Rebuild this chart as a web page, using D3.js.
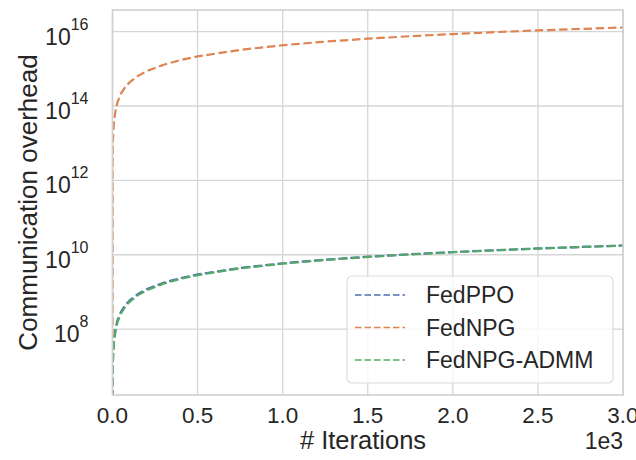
<!DOCTYPE html>
<html><head><meta charset="utf-8">
<script src="https://cdn.jsdelivr.net/npm/d3@7"></script>
<style>body{margin:0;background:#fff;} text{font-family:"Liberation Sans",Arial,sans-serif;fill:#262626;}</style>
</head><body>
<svg id="chart" width="636" height="460"></svg>
<script>
const iterations = [0,1,2,3,5,10,20,30,50,75,100,150,200,300,400,500,750,1000,1250,1500,1750,2000,2250,2500,2750,3000];
const fedPPO = [0,5.9e6,1.18e7,1.77e7,2.95e7,5.9e7,1.18e8,1.77e8,2.95e8,4.43e8,5.9e8,8.85e8,1.18e9,1.77e9,2.36e9,2.95e9,4.43e9,5.9e9,7.38e9,8.85e9,1.03e10,1.18e10,1.33e10,1.48e10,1.62e10,1.77e10];
const fedNPG = [0,4.3e12,8.6e12,1.29e13,2.15e13,4.3e13,8.6e13,1.29e14,2.15e14,3.23e14,4.3e14,6.45e14,8.6e14,1.29e15,1.72e15,2.15e15,3.23e15,4.3e15,5.38e15,6.45e15,7.53e15,8.6e15,9.68e15,1.08e16,1.18e16,1.29e16];
const fedNPGADMM = [0,5.0e6,1.0e7,1.5e7,2.5e7,5.1e7,1.03e8,1.56e8,2.65e8,4.0e8,5.4e8,8.2e8,1.1e9,1.67e9,2.25e9,2.83e9,4.3e9,5.75e9,7.2e9,8.7e9,1.02e10,1.17e10,1.31e10,1.46e10,1.61e10,1.76e10];
const seriesNames = ["FedPPO","FedNPG","FedNPG-ADMM"];
const seriesColors = ["#4C72B0","#DD8452","#55A868"];
const xTicks = [0,500,1000,1500,2000,2500,3000];
const yTickExps = [8,10,12,14,16];
const xLabel = "# Iterations";
const yLabel = "Communication overhead";
const xOffsetLabel = "1e3";

const svg = d3.select("#chart");
const L = 112.5, R = 623, T = 10, B = 395;
const W = R - L, H = B - T;

const allSeries = [fedPPO, fedNPG, fedNPGADMM];
const pos = allSeries.flat().filter(v => v > 0);
const lmin = Math.log10(d3.min(pos)), lmax = Math.log10(d3.max(pos));
const pad = (lmax - lmin) * 0.05;

const x = d3.scaleLinear().domain([0, 3000]).range([0, W]);
const y = d3.scaleLog().domain([Math.pow(10, lmin - pad), Math.pow(10, lmax + pad)]).range([H, 0]);

const g = svg.append("g").attr("transform", `translate(${L},${T})`);

svg.append("defs").append("clipPath").attr("id","clip")
  .append("rect").attr("x",0).attr("y",0).attr("width",W).attr("height",H);

// grid
g.append("g").selectAll("line").data(xTicks).join("line")
  .attr("x1", d => x(d)).attr("x2", d => x(d)).attr("y1", 0).attr("y2", H)
  .attr("stroke", "#d6d6d6").attr("stroke-width", 1.3);
g.append("g").selectAll("line").data(yTickExps).join("line")
  .attr("x1", 0).attr("x2", W).attr("y1", d => y(Math.pow(10, d))).attr("y2", d => y(Math.pow(10, d)))
  .attr("stroke", "#d6d6d6").attr("stroke-width", 1.3);

// lines
const line = d3.line()
  .x((d, i) => x(iterations[i]))
  .y(d => d > 0 ? y(d) : H + 40);
const lg = g.append("g").attr("clip-path", "url(#clip)");
allSeries.forEach((s, k) => {
  lg.append("path").datum(s).attr("d", line)
    .attr("fill", "none").attr("stroke", seriesColors[k])
    .attr("stroke-width", 2.2).attr("stroke-dasharray", "8.5,3.7");
});

// spines
g.append("rect").attr("x", 0).attr("y", 0).attr("width", W).attr("height", H)
  .attr("fill", "none").attr("stroke", "#d0d0d0").attr("stroke-width", 1.6);

// x tick labels
g.append("g").selectAll("text").data(xTicks).join("text")
  .attr("x", d => x(d)).attr("y", H + 28).attr("text-anchor", "middle")
  .attr("font-size", 22.5).text(d => (d / 1000).toFixed(1));

// y tick labels
const yl = g.append("g").selectAll("text").data(yTickExps).join("text")
  .attr("x", -24).attr("y", d => y(Math.pow(10, d)) + 13).attr("text-anchor", "end")
  .attr("font-size", 23);
yl.append("tspan").text("10");
yl.append("tspan").attr("font-size", 16).attr("dy", -15).text(d => d);

// axis labels
svg.append("text").attr("x", 363).attr("y", 449).attr("text-anchor", "middle")
  .attr("font-size", 25.5).text(xLabel);
svg.append("text").attr("x", R).attr("y", 449).attr("text-anchor", "end")
  .attr("font-size", 23).text(xOffsetLabel);
svg.append("text").attr("transform", `translate(37,${T + H / 2}) rotate(-90)`)
  .attr("text-anchor", "middle").attr("font-size", 26).text(yLabel);

// legend
const leg = svg.append("g");
leg.append("rect").attr("x", 347).attr("y", 276).attr("width", 266).attr("height", 107)
  .attr("rx", 5).attr("fill", "#fff").attr("fill-opacity", 0.8)
  .attr("stroke", "#dcdcdc").attr("stroke-width", 1.2);
seriesNames.forEach((n, k) => {
  const cy = 295 + k * 32.5;
  leg.append("line").attr("x1", 355).attr("x2", 405).attr("y1", cy).attr("y2", cy)
    .attr("stroke", seriesColors[k]).attr("stroke-width", 1.6).attr("stroke-dasharray", "6.5,3");
  leg.append("text").attr("x", 426).attr("y", cy + 8).attr("font-size", 23).text(n);
});
</script>
</body></html>
